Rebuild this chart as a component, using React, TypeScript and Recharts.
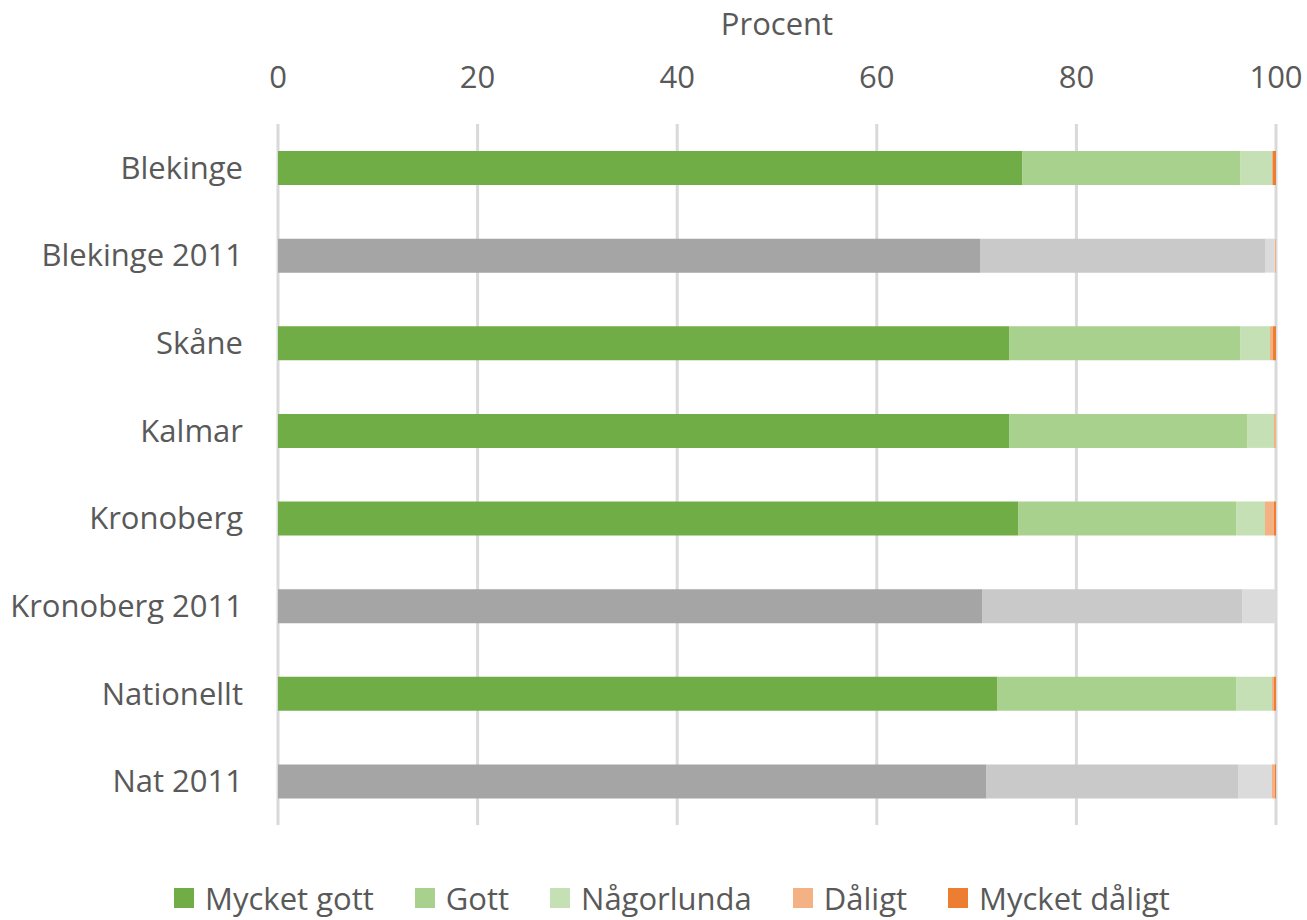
import { BarChart, Bar, XAxis, YAxis, CartesianGrid, Legend, Cell } from 'recharts';

const categories = ['Blekinge', 'Blekinge 2011', 'Skåne', 'Kalmar', 'Kronoberg', 'Kronoberg 2011', 'Nationellt', 'Nat 2011'];
const mycketGott = [74.6, 70.4, 73.3, 73.3, 74.2, 70.6, 72.1, 71.0];
const gott = [21.8, 28.5, 23.1, 23.8, 21.8, 26.0, 23.9, 25.2];
const nagorlunda = [3.2, 1.0, 3.0, 2.7, 2.9, 3.4, 3.6, 3.4];
const daligt = [0.1, 0.1, 0.3, 0.2, 0.9, 0, 0.2, 0.3];
const mycketDaligt = [0.3, 0, 0.3, 0, 0.2, 0, 0.2, 0.1];
const xTicks = [0, 20, 40, 60, 80, 100];

const data = categories.map((name, i) => ({
  name,
  mycketGott: mycketGott[i],
  gott: gott[i],
  nagorlunda: nagorlunda[i],
  daligt: daligt[i],
  mycketDaligt: mycketDaligt[i],
}));

const is2011 = (name: string) => name.includes('2011');

const series = [
  { key: 'mycketGott', label: 'Mycket gott', color: '#70AD47', gray: '#A5A5A5' },
  { key: 'gott', label: 'Gott', color: '#A9D18E', gray: '#C9C9C9' },
  { key: 'nagorlunda', label: 'Någorlunda', color: '#C5E0B4', gray: '#DBDBDB' },
  { key: 'daligt', label: 'Dåligt', color: '#F4B183', gray: '#F4B183' },
  { key: 'mycketDaligt', label: 'Mycket dåligt', color: '#ED7D31', gray: '#ED7D31' },
];

const font = '"Open Sans", sans-serif';
const textColor = '#595959';

const renderLegend = () => (
  <div
    style={{
      display: 'flex',
      justifyContent: 'center',
      alignItems: 'center',
      height: 34,
      paddingLeft: 37,
      fontFamily: font,
      fontSize: 31,
      color: textColor,
    }}
  >
    {series.map((s, i) => (
      <div key={s.key} style={{ display: 'flex', alignItems: 'center', marginRight: i < series.length - 1 ? 41 : 0 }}>
        <span style={{ width: 20, height: 20, background: s.color, marginRight: 11, display: 'inline-block' }} />
        <span style={{ lineHeight: '34px' }}>{s.label}</span>
      </div>
    ))}
  </div>
);

export default function App() {
  return (
    <div style={{ position: 'absolute', left: 0, top: 0, background: '#fff' }}>
      <BarChart
        width={1307}
        height={920}
        data={data}
        layout="vertical"
        margin={{ top: 0, right: 31, bottom: 61, left: 0 }}
        barSize={34}
      >
        <CartesianGrid horizontal={false} stroke="#D9D9D9" strokeWidth={3} />
        <XAxis
          type="number"
          orientation="top"
          domain={[0, 100]}
          ticks={xTicks}
          allowDataOverflow
          height={124}
          axisLine={false}
          tickLine={false}
          tickSize={0}
          tickMargin={36}
          tick={{ fill: textColor, fontSize: 31, fontFamily: font }}
          label={{ value: 'Procent', position: 'insideTop', offset: 13, fill: textColor, fontSize: 31, fontFamily: font }}
        />
        <YAxis
          type="category"
          dataKey="name"
          width={278}
          axisLine={false}
          tickLine={false}
          tickSize={0}
          tickMargin={35}
          interval={0}
          tick={{ fill: textColor, fontSize: 31, fontFamily: font }}
        />
        {series.map((s) => (
          <Bar key={s.key} dataKey={s.key} name={s.label} stackId="a" fill={s.color} isAnimationActive={false}>
            {data.map((d) => (
              <Cell key={d.name} fill={is2011(d.name) ? s.gray : s.color} />
            ))}
          </Bar>
        ))}
        <Legend content={renderLegend} verticalAlign="bottom" wrapperStyle={{ left: 0, width: 1307, bottom: 5 }} />
      </BarChart>
    </div>
  );
}
